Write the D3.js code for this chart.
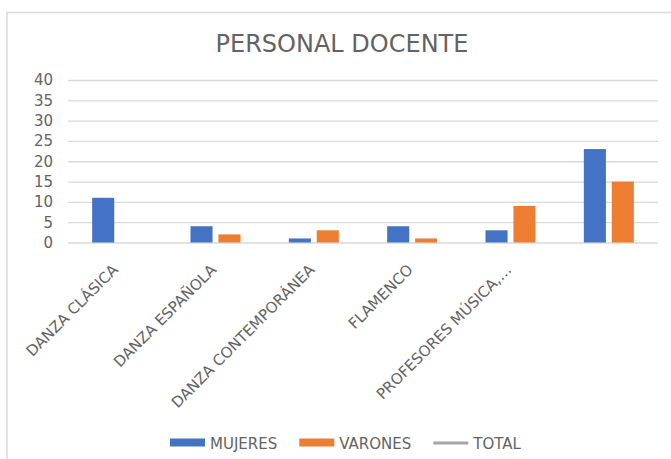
<!DOCTYPE html>
<html>
<head>
<meta charset="utf-8">
<script src="https://d3js.org/d3.v7.min.js"></script>
<style>
  body { margin: 0; background: #ffffff; }
  text { font-family: "DejaVu Sans", sans-serif; fill: #636363; }
</style>
</head>
<body>
<div id="chart"></div>
<script>
// Chart data
let categories = ["DANZA CLÁSICA", "DANZA ESPAÑOLA", "DANZA CONTEMPORÁNEA",
  "FLAMENCO", "PROFESORES MÚSICA,…", ""];
let mujeres = [11, 4, 1, 4, 3, 23];
let varones = [0, 2, 3, 1, 9, 15];
let yTicks = [0, 5, 10, 15, 20, 25, 30, 35, 40];
let seriesNames = ["MUJERES", "VARONES", "TOTAL"];
let seriesColors = ["#4472c4", "#ed7d31", "#a5a5a5"];

const WIDTH = 671, HEIGHT = 459;

let svg = d3.select("#chart").append("svg")
  .attr("width", WIDTH).attr("height", HEIGHT);

// chart frame
svg.append("rect")
  .attr("x", 7).attr("y", 12.5)
  .attr("width", WIDTH).attr("height", HEIGHT)
  .attr("fill", "none").attr("stroke", "#d9d9d9").attr("stroke-width", 1.5);

svg.append("text")
  .attr("x", 342).attr("y", 52)
  .attr("text-anchor", "middle").attr("font-size", 24)
  .text("PERSONAL DOCENTE");

let x = d3.scaleBand().domain(categories).range([68, 658]);
let xSeries = d3.scaleBand().domain([0, 1]).range([0, 50]).paddingInner(0.21);
let y = d3.scaleLinear().domain([0, 40]).range([242.5, 80]);

// gridlines + y labels
let yAxis = svg.append("g")
  .attr("transform", "translate(68,0)")
  .call(d3.axisLeft(y).tickValues(yTicks).tickSize(-590).tickPadding(15));
yAxis.select(".domain").remove();
yAxis.selectAll("line").attr("stroke", "#d9d9d9").attr("stroke-width", 1.3);
yAxis.selectAll("text")
  .attr("font-size", 15).attr("fill", "#636363")
  .style("font-family", "DejaVu Sans");

// bars
let groups = svg.selectAll("g.cat").data(categories).enter()
  .append("g").attr("class", "cat")
  .attr("transform", d => `translate(${x(d) + x.bandwidth() / 2 - 25},0)`);

[mujeres, varones].forEach(function(values, s) {
  groups.append("rect")
    .attr("x", xSeries(s))
    .attr("width", xSeries.bandwidth())
    .attr("y", (d, i) => y(values[i]))
    .attr("height", (d, i) => y(0) - y(values[i]))
    .attr("fill", seriesColors[s]);
});

// rotated category labels
svg.selectAll("text.cat-label").data(categories).enter()
  .append("text").attr("class", "cat-label")
  .attr("text-anchor", "end").attr("font-size", 15)
  .attr("dy", "0.73em")
  .attr("transform", d => `translate(${x(d) + x.bandwidth() / 2 - 6},263) rotate(-45)`)
  .text(d => d);

// legend
let legend = svg.append("g").attr("transform", "translate(170,443)");
let lx = 0;
seriesNames.forEach(function(name, i) {
  if (i < 2) {
    legend.append("rect")
      .attr("x", lx).attr("y", -4.5).attr("width", 35).attr("height", 8)
      .attr("fill", seriesColors[i]);
  } else {
    legend.append("line")
      .attr("x1", lx).attr("x2", lx + 35)
      .attr("stroke", seriesColors[i]).attr("stroke-width", 3);
  }
  let t = legend.append("text")
    .attr("x", lx + 40).attr("y", 6)
    .attr("font-size", 15)
    .text(name);
  lx += 40 + t.node().getComputedTextLength() + 22;
});
</script>
</body>
</html>
